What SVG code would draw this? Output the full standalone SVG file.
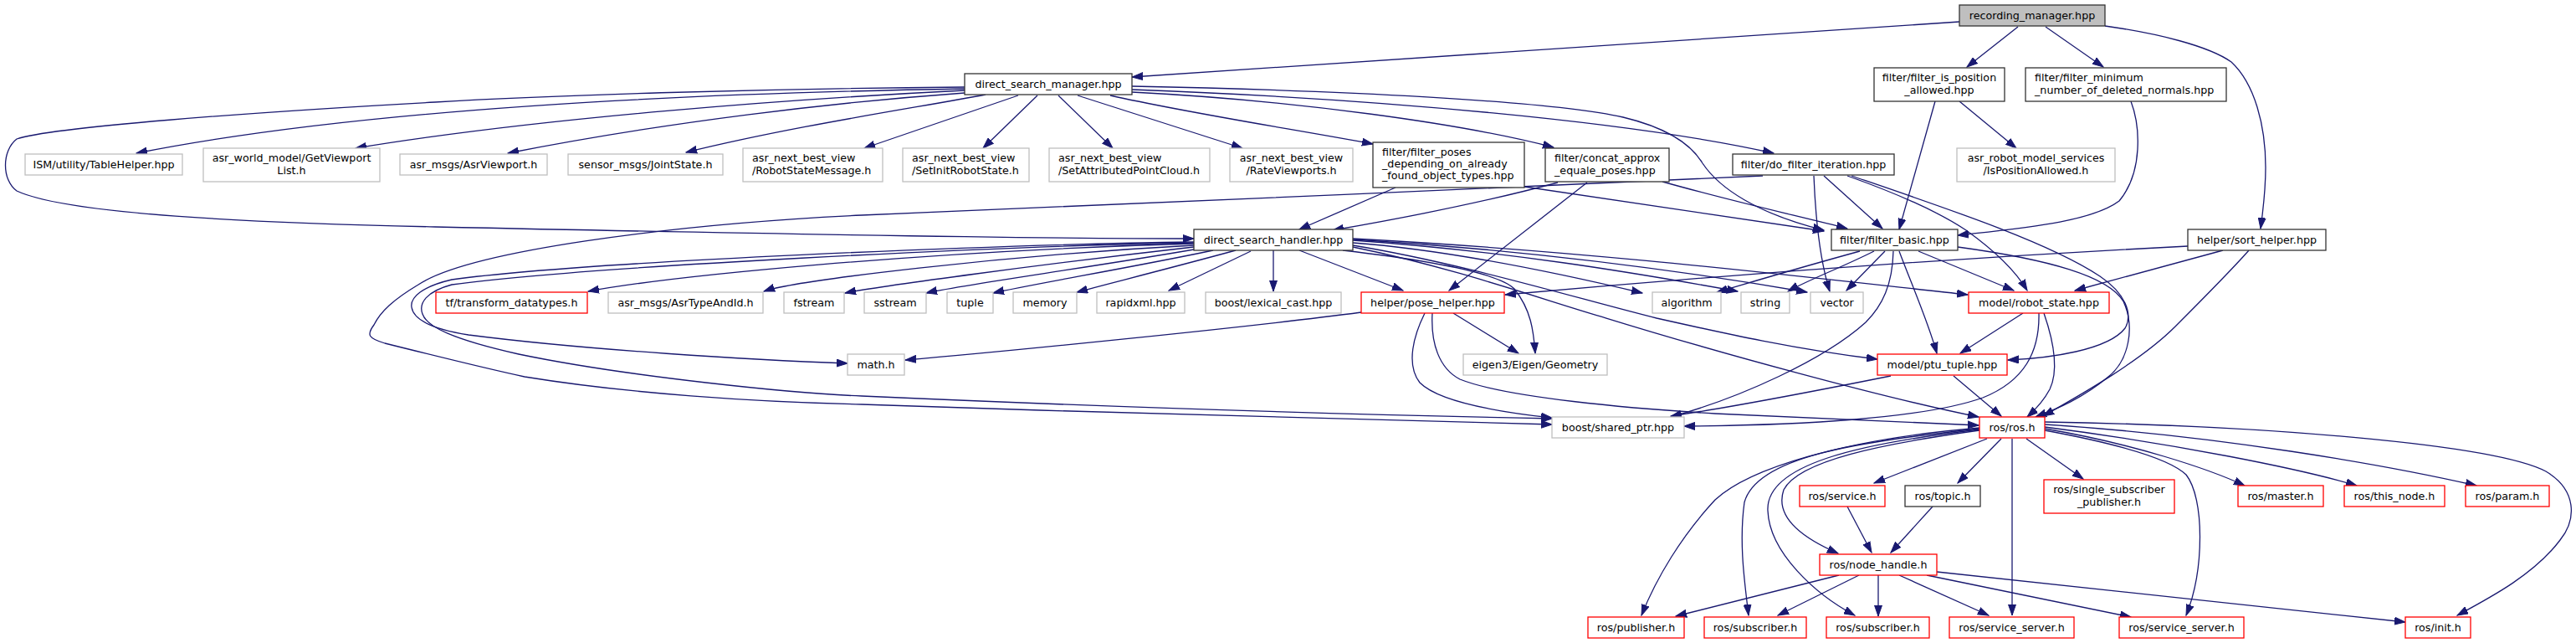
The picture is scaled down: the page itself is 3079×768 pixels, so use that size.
<svg xmlns="http://www.w3.org/2000/svg" width="3079" height="768" viewBox="0 0 3079 768">
<style>
rect{fill:#fff;stroke-width:1.3}
.doc rect{stroke:#333}
.ext rect{stroke:#bfbfbf}
.red rect{stroke:#f00}
.root rect{fill:#bfbfbf;stroke:#333}
text{font-family:"DejaVu Sans",sans-serif;font-size:12.7px;fill:#000;text-anchor:middle}
text.l{text-anchor:start}
#edges path{fill:none;stroke:#191970;stroke-width:1.3;marker-end:url(#a)}
</style>
<defs>
<marker id="a" markerUnits="userSpaceOnUse" markerWidth="14" markerHeight="10" refX="13" refY="5" orient="auto" viewBox="0 0 14 10"><path d="M0,0.5 L13,5 L0,9.5 z" fill="#191970" stroke="#191970" stroke-width="1"/></marker>
</defs>
<rect x="0" y="0" width="3079" height="768" style="fill:#fff;stroke:none"/>
<g id="edges">
<path d="M2342,26 L1353,92"/>
<path d="M2412,32 L2351,80"/>
<path d="M2445,32 L2514,80"/>
<path d="M2516,31 C2580,40 2640,55 2667,74 C2695,100 2708,150 2708,200 C2708,230 2705,250 2702,273"/>
<path d="M1153,106 C800,112 420,132 163,183"/>
<path d="M1153,108 C950,118 650,140 425,177"/>
<path d="M1153,111 C1000,122 800,145 607,183"/>
<path d="M1178,113 C1100,128 950,150 820,182"/>
<path d="M1217,114 L1033,177"/>
<path d="M1240,114 L1175,177"/>
<path d="M1265,114 L1330,177"/>
<path d="M1288,114 L1485,177"/>
<path d="M1327,114 C1420,135 1550,155 1641,172"/>
<path d="M1353,110 C1550,120 1750,148 1857,176"/>
<path d="M1353,107 C1650,118 1950,145 2120,183"/>
<path d="M1353,103 C1600,108 1850,120 1940,140 C1990,152 2020,170 2035,195 C2055,225 2100,255 2180,275"/>
<path d="M1153,104 C900,106 650,114 520,122 C300,134 60,152 20,166 C2,180 2,215 20,228 C80,256 300,266 520,271 C800,277 1200,285 1427,285"/>
<path d="M2313,121 L2270,274"/>
<path d="M2342,121 L2410,177"/>
<path d="M2547,121 C2558,150 2562,205 2533,240 C2500,265 2420,272 2340,281"/>
<path d="M1668,224 L1553,274"/>
<path d="M1822,223 L2180,276"/>
<path d="M1862,218 C1780,240 1680,260 1593,275"/>
<path d="M1897,218 L1732,347"/>
<path d="M1987,217 C2080,243 2150,258 2208,273"/>
<path d="M2107,210 C1800,225 1300,245 1030,257 C800,268 560,300 500,340 C470,358 455,372 447,388 C438,400 440,404 460,410 C520,425 580,440 627,450 C750,470 900,480 1030,483 C1300,492 1550,500 1855,507"/>
<path d="M2180,210 L2250,273"/>
<path d="M2168,210 C2170,260 2175,310 2187,348"/>
<path d="M2208,210 C2270,232 2320,255 2350,275 C2385,300 2410,325 2423,347"/>
<path d="M2213,210 C2330,250 2450,290 2510,330 C2540,350 2550,375 2540,392 C2520,418 2450,428 2400,430"/>
<path d="M2223,300 C2150,320 2100,335 2052,349"/>
<path d="M2240,300 C2200,320 2160,335 2137,348"/>
<path d="M2253,300 L2207,347"/>
<path d="M2293,300 L2407,347"/>
<path d="M2270,300 C2285,340 2305,385 2315,422"/>
<path d="M2263,300 C2262,340 2250,365 2230,385 C2180,430 2080,475 1997,498"/>
<path d="M2340,295 C2450,310 2520,330 2538,360 C2552,390 2545,430 2520,450 C2490,475 2460,488 2433,498"/>
<path d="M2615,294 C2400,305 2100,325 1799,352"/>
<path d="M2657,299 L2480,347"/>
<path d="M2688,299 C2665,325 2630,360 2600,390 C2560,430 2490,470 2442,497"/>
<path d="M2418,374 L2343,422"/>
<path d="M2443,374 C2452,400 2462,440 2450,465 C2442,480 2432,490 2423,498"/>
<path d="M2437,374 C2438,420 2420,455 2370,475 C2300,500 2150,508 2013,509"/>
<path d="M2335,449 L2392,497"/>
<path d="M2260,449 C2180,465 2080,485 1997,497"/>
<path d="M1712,374 C1710,410 1720,440 1745,453 C1800,475 1950,488 2050,494 C2200,500 2300,505 2365,508"/>
<path d="M1703,374 C1690,400 1680,435 1697,457 C1720,480 1790,492 1855,499"/>
<path d="M1737,374 L1815,422"/>
<path d="M1627,373 C1500,390 1200,420 1082,430"/>
<path d="M1605,299 C1700,310 1790,325 1810,345 C1830,370 1833,395 1835,422"/>
<path d="M1617,290 C1750,300 1900,335 1963,350"/>
<path d="M1617,287 C1800,300 1950,325 2077,348"/>
<path d="M1617,286 C1850,300 2050,330 2160,349"/>
<path d="M1617,285 C1900,300 2150,330 2352,352"/>
<path d="M1553,299 L1677,347"/>
<path d="M1522,299 L1522,348"/>
<path d="M1495,300 L1397,347"/>
<path d="M1477,299 C1400,320 1320,340 1287,349"/>
<path d="M1450,299 C1350,320 1230,340 1187,350"/>
<path d="M1433,297 C1300,320 1150,340 1107,350"/>
<path d="M1427,295 C1250,315 1050,342 1010,350"/>
<path d="M1427,293 C1200,305 950,335 913,348"/>
<path d="M1427,291 C1100,300 800,330 703,348"/>
<path d="M1427,289 C1200,292 700,312 540,334 C505,342 490,355 492,367 C494,380 510,392 560,400 C700,418 900,430 1013,434"/>
<path d="M1427,290 C1200,294 700,318 540,340 C510,348 500,362 505,375 C510,390 540,405 620,423 C750,450 950,470 1030,473 C1300,485 1600,495 1855,500"/>
<path d="M1617,293 C1750,315 1880,355 1980,380 C2060,398 2150,418 2244,429"/>
<path d="M1617,295 C1740,320 1850,360 1920,380 C2050,420 2250,475 2365,498"/>
<path d="M2375,524 L2240,577"/>
<path d="M2392,524 L2340,577"/>
<path d="M2422,524 L2490,572"/>
<path d="M2405,524 L2405,735"/>
<path d="M2366,514 C2250,530 2150,550 2132,585 C2120,620 2160,645 2197,661"/>
<path d="M2366,512 C2220,528 2100,545 2085,600 C2078,650 2086,700 2090,735"/>
<path d="M2366,513 C2220,530 2110,555 2113,610 C2115,660 2170,710 2217,735"/>
<path d="M2366,511 C2200,525 2090,560 2050,597 C2010,640 1980,690 1962,735"/>
<path d="M2444,512 C2550,530 2640,560 2683,580"/>
<path d="M2444,510 C2600,530 2750,560 2817,580"/>
<path d="M2444,507 C2650,520 2850,555 2960,580"/>
<path d="M2444,504 C2700,508 2980,530 3043,563 C3080,585 3080,620 3060,645 C3030,685 2980,712 2937,735"/>
<path d="M2444,514 C2520,528 2590,545 2613,567 C2635,595 2635,680 2613,735"/>
<path d="M2208,605 L2237,660"/>
<path d="M2310,605 L2260,660"/>
<path d="M2198,687 L2003,736"/>
<path d="M2222,687 L2125,735"/>
<path d="M2245,687 L2245,736"/>
<path d="M2270,687 L2377,735"/>
<path d="M2303,687 L2547,737"/>
<path d="M2315,683 L2875,743"/>
</g>
<g id="n_rm" class="root"><rect x="2342" y="6" width="174" height="25"/><text x="2429" y="22.5">recording_manager.hpp</text></g>
<g id="n_dsm" class="doc"><rect x="1153" y="88" width="200" height="25"/><text x="1253" y="104.5">direct_search_manager.hpp</text></g>
<g id="n_fipa" class="doc"><rect x="2240" y="81" width="156" height="40"/><text x="2318" y="97.3">filter/filter_is_position</text><text x="2318" y="111.8">_allowed.hpp</text></g>
<g id="n_fmn" class="doc"><rect x="2421" y="81" width="240" height="40"/><text class="l" x="2432" y="97.3">filter/filter_minimum</text><text class="l" x="2432" y="111.8">_number_of_deleted_normals.hpp</text></g>
<g id="n_table" class="ext"><rect x="30" y="184" width="188" height="25"/><text x="124" y="200.5">ISM/utility/TableHelper.hpp</text></g>
<g id="n_gvl" class="ext"><rect x="243" y="177" width="211" height="40"/><text x="348.5" y="193.3">asr_world_model/GetViewport</text><text x="348.5" y="207.8">List.h</text></g>
<g id="n_avp" class="ext"><rect x="478" y="184" width="176" height="25"/><text x="566" y="200.5">asr_msgs/AsrViewport.h</text></g>
<g id="n_js" class="ext"><rect x="679" y="184" width="185" height="25"/><text x="771.5" y="200.5">sensor_msgs/JointState.h</text></g>
<g id="n_rsm" class="ext"><rect x="888" y="177" width="167" height="40"/><text class="l" x="899" y="193.3">asr_next_best_view</text><text class="l" x="899" y="207.8">/RobotStateMessage.h</text></g>
<g id="n_sirs" class="ext"><rect x="1079" y="177" width="151" height="40"/><text class="l" x="1090" y="193.3">asr_next_best_view</text><text class="l" x="1090" y="207.8">/SetInitRobotState.h</text></g>
<g id="n_sapc" class="ext"><rect x="1254" y="177" width="192" height="40"/><text class="l" x="1265" y="193.3">asr_next_best_view</text><text class="l" x="1265" y="207.8">/SetAttributedPointCloud.h</text></g>
<g id="n_rv" class="ext"><rect x="1470" y="177" width="147" height="40"/><text x="1543.5" y="193.3">asr_next_best_view</text><text x="1543.5" y="207.8">/RateViewports.h</text></g>
<g id="n_fp" class="doc"><rect x="1641" y="170" width="181" height="54"/><text class="l" x="1652" y="186">filter/filter_poses</text><text class="l" x="1652" y="200.3">_depending_on_already</text><text class="l" x="1652" y="214.3">_found_object_types.hpp</text></g>
<g id="n_cap" class="doc"><rect x="1847" y="177" width="148" height="40"/><text class="l" x="1858" y="193.3">filter/concat_approx</text><text class="l" x="1858" y="207.8">_equale_poses.hpp</text></g>
<g id="n_dfi" class="doc"><rect x="2071" y="184" width="193" height="25"/><text x="2167.5" y="200.5">filter/do_filter_iteration.hpp</text></g>
<g id="n_ipa" class="ext"><rect x="2339" y="177" width="189" height="40"/><text x="2433.5" y="193.3">asr_robot_model_services</text><text x="2433.5" y="207.8">/IsPositionAllowed.h</text></g>
<g id="n_dsh" class="doc"><rect x="1427" y="274" width="190" height="25"/><text x="1522" y="290.5">direct_search_handler.hpp</text></g>
<g id="n_fb" class="doc"><rect x="2189" y="274" width="151" height="25"/><text x="2264.5" y="290.5">filter/filter_basic.hpp</text></g>
<g id="n_sh" class="doc"><rect x="2615" y="274" width="165" height="25"/><text x="2697.5" y="290.5">helper/sort_helper.hpp</text></g>
<g id="n_tf" class="red"><rect x="521" y="349" width="181" height="25"/><text x="611.5" y="365.5">tf/transform_datatypes.h</text></g>
<g id="n_ati" class="ext"><rect x="727" y="349" width="185" height="25"/><text x="819.5" y="365.5">asr_msgs/AsrTypeAndId.h</text></g>
<g id="n_fstream" class="ext"><rect x="937" y="349" width="72" height="25"/><text x="973" y="365.5">fstream</text></g>
<g id="n_sstream" class="ext"><rect x="1033" y="349" width="74" height="25"/><text x="1070" y="365.5">sstream</text></g>
<g id="n_tuple" class="ext"><rect x="1132" y="349" width="55" height="25"/><text x="1159.5" y="365.5">tuple</text></g>
<g id="n_memory" class="ext"><rect x="1211" y="349" width="76" height="25"/><text x="1249" y="365.5">memory</text></g>
<g id="n_rapidxml" class="ext"><rect x="1311" y="349" width="105" height="25"/><text x="1363.5" y="365.5">rapidxml.hpp</text></g>
<g id="n_lc" class="ext"><rect x="1441" y="349" width="162" height="25"/><text x="1522" y="365.5">boost/lexical_cast.hpp</text></g>
<g id="n_ph" class="red"><rect x="1627" y="349" width="171" height="25"/><text x="1712.5" y="365.5">helper/pose_helper.hpp</text></g>
<g id="n_algorithm" class="ext"><rect x="1975" y="349" width="82" height="25"/><text x="2016" y="365.5">algorithm</text></g>
<g id="n_string" class="ext"><rect x="2081" y="349" width="58" height="25"/><text x="2110" y="365.5">string</text></g>
<g id="n_vector" class="ext"><rect x="2164" y="349" width="63" height="25"/><text x="2195.5" y="365.5">vector</text></g>
<g id="n_rs" class="red"><rect x="2353" y="349" width="168" height="25"/><text x="2437" y="365.5">model/robot_state.hpp</text></g>
<g id="n_math" class="ext"><rect x="1013" y="423" width="68" height="25"/><text x="1047" y="439.5">math.h</text></g>
<g id="n_eigen" class="ext"><rect x="1749" y="423" width="172" height="25"/><text x="1835" y="439.5">eigen3/Eigen/Geometry</text></g>
<g id="n_pt" class="red"><rect x="2244" y="423" width="155" height="25"/><text x="2321.5" y="439.5">model/ptu_tuple.hpp</text></g>
<g id="n_sp" class="ext"><rect x="1855" y="498" width="158" height="25"/><text x="1934" y="514.5">boost/shared_ptr.hpp</text></g>
<g id="n_ros" class="red"><rect x="2366" y="498" width="78" height="25"/><text x="2405" y="514.5">ros/ros.h</text></g>
<g id="n_service" class="red"><rect x="2151" y="580" width="102" height="25"/><text x="2202" y="596.5">ros/service.h</text></g>
<g id="n_topic" class="doc"><rect x="2277" y="580" width="90" height="25"/><text x="2322" y="596.5">ros/topic.h</text></g>
<g id="n_ssp" class="red"><rect x="2443" y="573" width="156" height="40"/><text x="2521" y="589.3">ros/single_subscriber</text><text x="2521" y="603.8">_publisher.h</text></g>
<g id="n_master" class="red"><rect x="2675" y="580" width="102" height="25"/><text x="2726" y="596.5">ros/master.h</text></g>
<g id="n_thisnode" class="red"><rect x="2802" y="580" width="120" height="25"/><text x="2862" y="596.5">ros/this_node.h</text></g>
<g id="n_param" class="red"><rect x="2947" y="580" width="100" height="25"/><text x="2997" y="596.5">ros/param.h</text></g>
<g id="n_nh" class="red"><rect x="2175" y="662" width="140" height="25"/><text x="2245" y="678.5">ros/node_handle.h</text></g>
<g id="n_pub" class="red"><rect x="1898" y="737" width="115" height="25"/><text x="1955.5" y="753.5">ros/publisher.h</text></g>
<g id="n_sub1" class="red"><rect x="2037" y="737" width="122" height="25"/><text x="2098" y="753.5">ros/subscriber.h</text></g>
<g id="n_sub2" class="red"><rect x="2183" y="737" width="123" height="25"/><text x="2244.5" y="753.5">ros/subscriber.h</text></g>
<g id="n_ss1" class="red"><rect x="2330" y="737" width="149" height="25"/><text x="2404.5" y="753.5">ros/service_server.h</text></g>
<g id="n_ss2" class="red"><rect x="2533" y="737" width="149" height="25"/><text x="2607.5" y="753.5">ros/service_server.h</text></g>
<g id="n_init" class="red"><rect x="2875" y="737" width="78" height="25"/><text x="2914" y="753.5">ros/init.h</text></g>
</svg>
